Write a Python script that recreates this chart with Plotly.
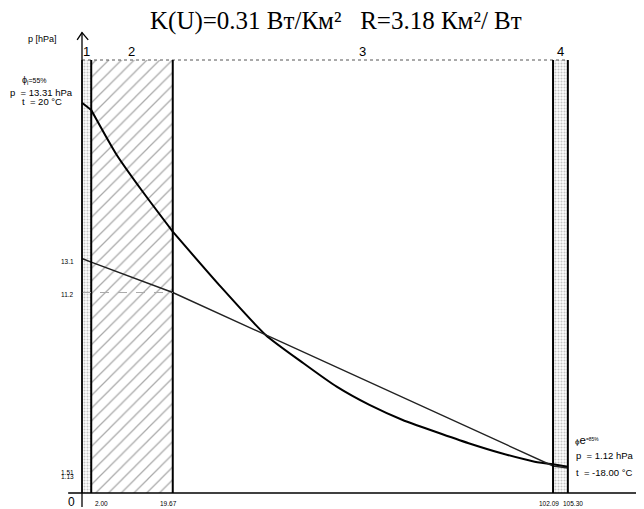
import plotly.graph_objects as go

# ---------------- data ----------------
layer_names = ["1", "2", "3", "4"]
boundaries = [0.0, 2.00, 19.67, 102.09, 105.30]          # layer interfaces
boundary_labels = ["2.00", "19.67", "102.09", "105.30"]
layer_fill = [".", "/", "", "."]

# saturation vapour pressure curve (hPa)
ps_x = [0.0, 2.00, 7.5, 13.25, 19.67, 29.8, 39.8, 48.0, 55.2, 62.3,
        69.5, 76.6, 83.8, 90.9, 98.1, 102.09, 105.30]
ps_y = [21.8, 21.4, 18.9, 16.8, 14.6, 11.6, 8.83, 7.25, 5.94, 4.92,
        4.08, 3.42, 2.78, 2.22, 1.75, 1.60, 1.47]

# partial vapour pressure line (hPa)
p_x = [0.0, 2.00, 19.67, 102.09, 105.30]
p_y = [13.1, 12.9, 11.2, 1.51, 1.40]

y_tick_vals = [13.1, 11.2, 1.51, 1.13]
y_tick_text = ["13.1", "11.2", "1.51", "1.13"]

title_text = "K(U)=0.31 Вт/Км²   R=3.18 Км²/ Вт"
inside_text = ["ϕ<sub>i</sub><span style='font-size:7px'>=55%</span>",
               "p  = 13.31 hPa", "t  = 20 °C"]
outside_text = ["<span style='font-size:8px'>ϕ</span>e<span style='font-size:7px'><sup>=85%</sup></span>",
                "p  = 1.12 hPa", "t  = -18.00 °C"]

# ---------------- layout helpers ----------------
OFF = 8                      # page body margin of the html
W, H = 644 - OFF, 509 - OFF
X0PX, XSC = 82.0 - OFF, 4.614     # pixel of x=0, pixels per unit
Y0PX, YSC = 493.0 - OFF, 17.9     # pixel of p=0, pixels per hPa
xr = [-X0PX / XSC, (W - X0PX) / XSC]
yr = [-(H - Y0PX) / YSC, Y0PX / YSC]
p_top = 24.19

def P(px, py):  # reference-picture pixel -> paper
    return (px - OFF) / W, 1 - (py - OFF) / H

NARROW = "Liberation Sans Narrow, Arial Narrow, Liberation Sans, Arial"

fig = go.Figure()

# layer fills
for i in range(4):
    if not layer_fill[i]:
        continue
    x0, x1 = boundaries[i], boundaries[i + 1]
    if layer_fill[i] == "/":
        pat = dict(shape="/", fgcolor="#555", bgcolor="white", size=9, solidity=0.14)
    else:
        pat = dict(shape=".", fgcolor="#8a8a8a", bgcolor="white", size=3, solidity=0.4)
    fig.add_trace(go.Scatter(x=[x0, x1, x1, x0, x0], y=[0, 0, p_top, p_top, 0],
                             fill="toself", mode="none", fillpattern=pat,
                             hoverinfo="skip", showlegend=False))

# top border
fig.add_shape(type="line", x0=boundaries[0], x1=boundaries[-1], y0=p_top, y1=p_top,
              line=dict(color="#555", width=1, dash="dot"))
# layer interfaces
for j, b in enumerate(boundaries):
    fig.add_shape(type="line", x0=b, x1=b, y0=0, y1=p_top,
                  line=dict(color="black", width=1.5 if j == 0 else 2))

# dashed reference line for 11.2
fig.add_shape(type="line", x0=0, x1=boundaries[2], y0=p_y[2], y1=p_y[2],
              line=dict(color="#aaa", width=1, dash="dash"))

# y axis with arrow
fig.add_shape(type="line", x0=0, x1=0, y0=-0.78, y1=25.72, line=dict(color="black", width=1.3))
fig.add_trace(go.Scatter(x=[-1.05, 0, 1.35], y=[25.31, 25.72, 25.31], mode="lines",
                         line=dict(color="black", width=1.3), hoverinfo="skip", showlegend=False))
# x axis
fig.add_shape(type="line", x0=-3.0, x1=xr[1], y0=0, y1=0, line=dict(color="black", width=1.6))

# saturation curve, drawn layer by layer (smooth inside each layer)
for a, b in zip(boundaries[:-1], boundaries[1:]):
    seg = [(x, y) for x, y in zip(ps_x, ps_y) if a <= x <= b]
    fig.add_trace(go.Scatter(x=[s[0] for s in seg], y=[s[1] for s in seg], mode="lines",
                             line=dict(color="black", width=2, shape="spline", smoothing=0.6),
                             hoverinfo="skip", showlegend=False))
# vapour pressure line
fig.add_trace(go.Scatter(x=p_x, y=p_y, mode="lines", line=dict(color="#222", width=1.4),
                         hoverinfo="skip", showlegend=False))

ann = []
def A(px, py, text, size, family="Liberation Sans, Arial", xanchor="center", color="black"):
    x, y = P(px, py)
    ann.append(dict(x=x, y=y, xref="paper", yref="paper", text=text, showarrow=False,
                    xanchor=xanchor, yanchor="middle", font=dict(size=size, family=family, color=color)))

# title
A(336, 21, title_text, 25, family="Liberation Serif, Times New Roman, serif")
# axis name
A(42, 39, "p [hPa]", 9, family=NARROW)
# layer numbers
for name, a, b in zip(layer_names, boundaries[:-1], boundaries[1:]):
    cx = 82 + XSC * (a + b) / 2
    A(cx, 52, name, 13, family="Liberation Sans, Arial")
# y tick labels
for v, t, sh in zip(y_tick_vals, y_tick_text, [3, 2, 7, 4]):
    A(76, 493 - YSC * v + sh, t, 6.5, family=NARROW, xanchor="right")
# x tick labels
A(71, 502, "0", 12)
for b, t, sh, anc in zip(boundaries[1:], boundary_labels, [2, -4, -4, 5], ["left", "center", "center", "center"]):
    A(82 + XSC * b + sh, 503, t, 6.5, family=NARROW, xanchor=anc)
# inside conditions
A(20, 80, inside_text[0], 9, family=NARROW, xanchor="left")
A(8, 92, inside_text[1], 9.5, family=NARROW, xanchor="left")
A(20, 102, inside_text[2], 9.5, family=NARROW, xanchor="left")
# outside conditions
A(573, 440, outside_text[0], 11.5, family=NARROW, xanchor="left")
A(574, 455, outside_text[1], 9.5, family=NARROW, xanchor="left")
A(574, 472, outside_text[2], 9.5, family=NARROW, xanchor="left")

fig.update_layout(
    width=W, height=H, margin=dict(l=0, r=0, t=0, b=0),
    paper_bgcolor="white", plot_bgcolor="white",
    xaxis=dict(range=xr, visible=False, fixedrange=True),
    yaxis=dict(range=yr, visible=False, fixedrange=True),
    annotations=ann, showlegend=False,
)
fig.write_html("out.html")
